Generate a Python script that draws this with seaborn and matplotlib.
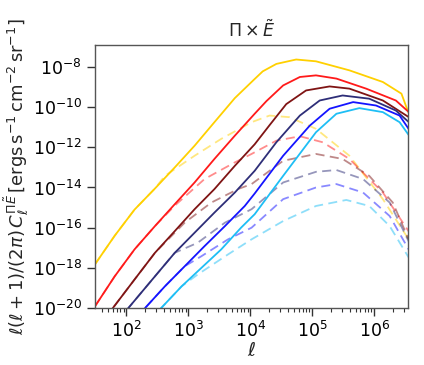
import numpy as np
import pandas as pd
import matplotlib
matplotlib.use('Agg')
import matplotlib.pyplot as plt
import seaborn as sns
from matplotlib.ticker import LogLocator, NullFormatter

# log10(ell) and log10(l(l+1)/2pi C_l)
colors = ['#FFD000', '#FF1A1A', '#7F1414', '#2E2E78', '#1414FF', '#1EBEF5']

solid_logl = [
    [1.49, 1.81, 2.13, 2.46, 2.78, 3.10, 3.42, 3.75, 4.07, 4.20, 4.42, 4.74, 5.06, 5.60, 6.14, 6.44, 6.52, 6.56],
    [1.49, 1.81, 2.13, 2.46, 2.78, 3.10, 3.42, 3.75, 4.07, 4.26, 4.53, 4.80, 5.06, 5.39, 5.87, 6.35, 6.56],
    [1.49, 1.78, 2.13, 2.46, 2.78, 3.10, 3.42, 3.75, 4.07, 4.31, 4.58, 4.90, 5.28, 5.60, 6.14, 6.56],
    [1.49, 2.03, 2.46, 2.78, 3.10, 3.42, 3.75, 4.07, 4.42, 4.80, 5.12, 5.49, 5.92, 6.35, 6.56],
    [1.49, 2.30, 2.62, 2.94, 3.26, 3.59, 3.91, 4.07, 4.53, 4.96, 5.28, 5.66, 6.03, 6.41, 6.56],
    [1.49, 2.56, 2.89, 3.21, 3.53, 3.85, 4.07, 4.53, 5.06, 5.39, 5.76, 6.14, 6.41, 6.56],
]
solid_logc = [
    [-17.83, -16.4, -15.1, -14.05, -13.0, -11.92, -10.75, -9.55, -8.6, -8.22, -7.85, -7.63, -7.72, -8.17, -8.75, -9.33, -10.0, -10.3],
    [-19.92, -18.42, -17.08, -15.92, -14.83, -13.75, -12.58, -11.42, -10.33, -9.7, -8.92, -8.5, -8.42, -8.58, -9.08, -9.67, -10.25],
    [-21.0, -20.0, -18.58, -17.25, -16.17, -15.08, -14.08, -12.92, -11.85, -10.9, -9.85, -9.17, -8.97, -9.08, -9.67, -10.5],
    [-22.5, -20.0, -18.42, -17.25, -16.25, -15.25, -14.25, -13.17, -11.75, -10.42, -9.67, -9.42, -9.58, -10.17, -10.75],
    [-23.5, -20.0, -18.92, -17.92, -16.92, -15.92, -14.92, -14.3, -12.42, -10.92, -10.08, -9.75, -9.92, -10.42, -11.1],
    [-24.0, -20.0, -18.92, -18.0, -17.08, -16.0, -15.33, -13.42, -11.25, -10.33, -10.05, -10.25, -10.75, -11.4],
]

dashed_logl = [
    [1.49, 1.81, 2.13, 2.46, 2.62, 3.10, 3.53, 4.02, 4.31, 4.63, 5.06, 5.60, 6.14, 6.56],
    [1.49, 1.81, 2.13, 2.46, 2.78, 3.26, 3.75, 4.02, 4.42, 4.80, 5.17, 5.60, 6.14, 6.56],
    [1.49, 1.78, 2.13, 2.46, 2.94, 3.37, 3.80, 4.02, 4.53, 5.06, 5.49, 5.92, 6.30, 6.56],
    [1.49, 2.03, 2.46, 2.78, 3.15, 3.59, 4.02, 4.53, 5.06, 5.39, 5.82, 6.25, 6.56],
    [1.49, 2.30, 2.62, 2.94, 3.21, 3.64, 4.02, 4.53, 5.06, 5.39, 5.82, 6.25, 6.56],
    [1.49, 2.56, 2.89, 3.15, 3.64, 4.02, 4.53, 5.06, 5.55, 5.92, 6.25, 6.56],
]
dashed_logc = [
    [-17.83, -16.4, -15.1, -14.05, -13.42, -12.42, -11.58, -10.75, -10.42, -10.5, -11.08, -12.42, -14.58, -16.6],
    [-19.92, -18.42, -17.08, -15.92, -14.9, -13.58, -12.75, -12.33, -11.67, -11.45, -11.75, -12.58, -14.25, -16.2],
    [-21.0, -20.0, -18.58, -17.25, -15.75, -14.75, -14.08, -13.83, -12.67, -12.33, -12.58, -13.42, -14.75, -16.6],
    [-22.5, -20.0, -18.42, -17.25, -16.75, -15.75, -15.08, -13.75, -13.22, -13.13, -13.58, -14.75, -16.7],
    [-23.5, -20.0, -18.92, -17.92, -17.42, -16.58, -16.0, -14.58, -14.0, -13.83, -14.25, -15.42, -17.1],
    [-24.0, -20.0, -18.92, -18.33, -17.33, -16.58, -15.67, -14.92, -14.62, -14.92, -15.92, -17.5],
]

sns.set_style('ticks')
plt.rcParams['font.family'] = ['DejaVu Sans']
plt.rcParams['mathtext.fontset'] = 'dejavuserif'

fig = plt.figure(figsize=(4.24, 3.65), dpi=100)
ax = fig.add_axes([0.224, 0.156, 0.738, 0.721])

for i, c in enumerate(colors):
    df = pd.DataFrame({'ell': 10 ** np.array(solid_logl[i]), 'cl': 10 ** np.array(solid_logc[i])})
    sns.lineplot(data=df, x='ell', y='cl', color=c, lw=1.3, ax=ax)
    dd = pd.DataFrame({'ell': 10 ** np.array(dashed_logl[i]), 'cl': 10 ** np.array(dashed_logc[i])})
    sns.lineplot(data=dd, x='ell', y='cl', color=c, lw=1.3, alpha=0.5, ax=ax,
                 linestyle=(0, (5, 3)))

ax.set_xscale('log')
ax.set_yscale('log')
ax.set_xlim(31, 3.5e6)
ax.set_ylim(1e-20, 1.25e-7)
ax.xaxis.set_minor_locator(LogLocator(base=10, subs=np.arange(2, 10), numticks=100))
ax.xaxis.set_minor_formatter(NullFormatter())
ax.yaxis.set_major_locator(LogLocator(base=100, numticks=10))
ax.yaxis.set_minor_locator(LogLocator(base=10, subs=[], numticks=10))
ax.tick_params(axis='both', which='major', length=6, width=1, labelsize=12.5,
               color='#333333', labelcolor='black')
ax.tick_params(axis='x', which='minor', length=3, width=0.8, color='#333333')
for s in ax.spines.values():
    s.set_color('#555555')
    s.set_linewidth(1)

ax.set_xlabel(r'$\ell$', fontsize=14, math_fontfamily='dejavusans', labelpad=0)
ax.set_ylabel(r'$\ell(\ell+1)/(2\pi)\,C_\ell^{\Pi\tilde{E}}\,[\mathrm{ergs\,s^{-1}\,cm^{-2}\,sr^{-1}}]$',
              fontsize=13, math_fontfamily='dejavusans', labelpad=1)
ax.set_title(r'$\Pi\times\tilde{E}$', fontsize=12.5, math_fontfamily='dejavusans', pad=6)

fig.savefig('out.png', dpi=100)
